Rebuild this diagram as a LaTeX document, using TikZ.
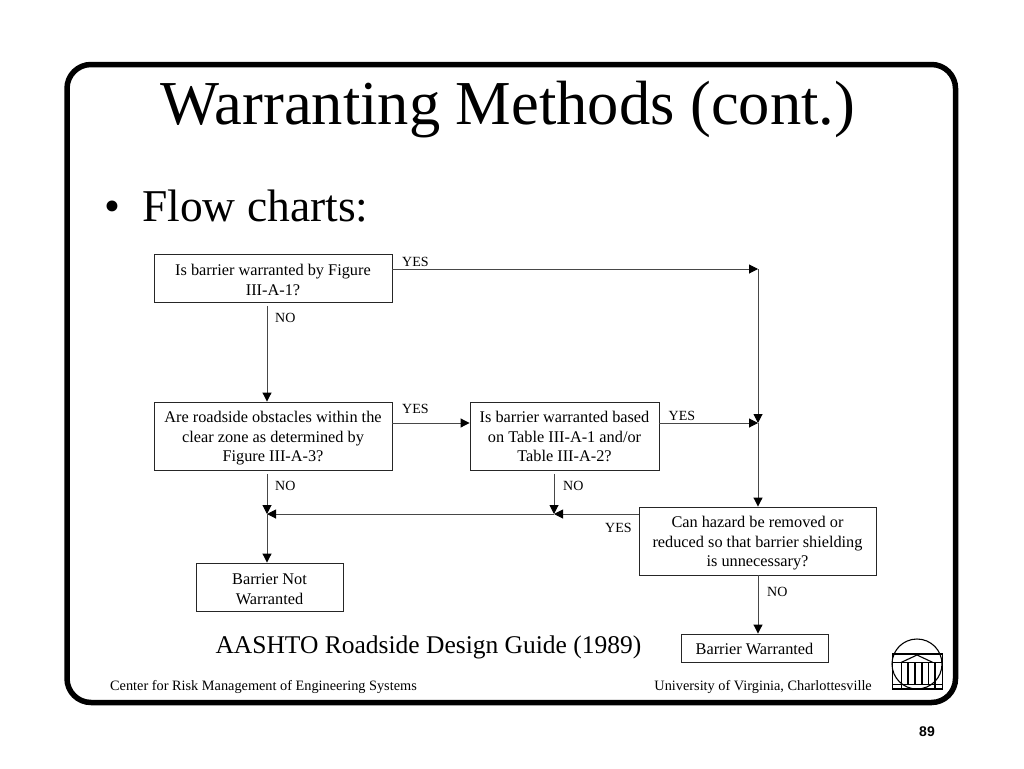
\documentclass[tikz,border=0pt]{standalone}
\usepackage{fontspec}
\setmainfont{Liberation Serif}
\newfontfamily\arialf{Liberation Sans}
\usetikzlibrary{arrows.meta,calc}
\newcommand{\dropl}[1]{\rule{0pt}{#1pt}}
\tikzset{
  fbox/.style={draw=black!85,line width=0.9pt,fill=white,inner sep=0pt,align=center,font=\fontsize{16.3}{19.5}\selectfont},
  lab/.style={inner sep=0pt,anchor=base west,font=\fontsize{14}{16}\selectfont},
  foot/.style={inner sep=0pt,font=\fontsize{14.3}{16}\selectfont},
  conn/.style={draw=black!72,line width=1pt,-{Triangle[length=9pt,width=9pt,fill=black,color=black]}},
  logo/.style={draw=black,line width=1.1pt}
}
\begin{document}
\begin{tikzpicture}[x=1pt,y=-1pt]
\useasboundingbox (0,0) rectangle (1024,768);
\fill[white] (0,0) rectangle (1024,768);
\draw[black,line width=5.5pt,rounded corners=24pt] (67,64.5) rectangle (955.5,702.5);
\node[inner sep=0pt] (title) at (508,110) {\fontsize{62.5}{70}\selectfont Warranting Methods (cont.)};
\node[inner sep=0pt,anchor=base west] (bullet) at (104,221) {\fontsize{45.5}{50}\selectfont •};
\node[inner sep=0pt,anchor=base west] (flow) at (142,221) {\fontsize{45.5}{50}\selectfont Flow charts:};
\node[fbox,minimum width=238pt,minimum height=48pt] (A) at (273,278) {\dropl{15}Is barrier warranted by Figure\\III-A-1?};
\node[fbox,minimum width=238pt,minimum height=68pt] (B) at (273,436) {\dropl{16}Are roadside obstacles within the\\clear zone as determined by\\Figure III-A-3?};
\node[fbox,minimum width=189pt,minimum height=68pt] (C) at (564.5,436) {\dropl{13}Is barrier warranted based\\on Table III-A-1 and/or\\Table III-A-2?};
\node[fbox,minimum width=237pt,minimum height=68pt] (D) at (757.5,541) {\dropl{16}Can hazard be removed or\\reduced so that barrier shielding\\is unnecessary?};
\node[fbox,minimum width=147pt,minimum height=48pt] (E) at (269.5,587) {\dropl{15}Barrier Not\\Warranted};
\node[fbox,minimum width=147pt,minimum height=28pt] (F) at (754.5,648) {\dropl{13}Barrier Warranted};
\coordinate (j1) at (758,269);
\coordinate (j2) at (758,423);
\coordinate (jm) at (554,514);
\coordinate (jl) at (267,514);
\draw[conn] (A.east |- j1) -- (j1);
\draw[conn] (j1) -- (j2);
\draw[conn] (j2) -- (D.north -| j2);
\draw[conn] (C.east |- j2) -- (j2);
\draw[conn] (B.east |- j2) -- (C.west |- j2);
\draw[conn,shorten <=3.5pt] (A.south -| jl) -- (B.north -| jl);
\draw[conn,shorten <=3.5pt] (B.south -| jl) -- (jl);
\draw[conn,shorten <=3.5pt] (C.south -| jm) -- (jm);
\draw[conn] (D.west |- jm) -- (jm);
\draw[conn] (jm) -- (jl);
\draw[conn] (jl) -- (E.north -| jl);
\draw[conn] (D.south -| j2) -- (F.north -| j2);
\node[lab] (l1) at (402,266) {YES};
\node[lab] (l2) at (275,322) {NO};
\node[lab] (l3) at (402,413) {YES};
\node[lab] (l4) at (668.5,420) {YES};
\node[lab] (l5) at (275,490) {NO};
\node[lab] (l6) at (563,490) {NO};
\node[lab] (l7) at (605,532) {YES};
\node[lab] (l8) at (767,596) {NO};
\node[inner sep=0pt] (src) at (428.5,647) {\fontsize{25.5}{28}\selectfont AASHTO Roadside Design Guide (1989)};
\node[foot,anchor=base west] (fl) at (110,690) {Center for Risk Management of Engineering Systems};
\node[foot,anchor=base east] (fr) at (872,690) {University of Virginia, Charlottesville};
\node[inner sep=0pt] (pg) at (927,732) {\arialf\bfseries\fontsize{14}{16}\selectfont 89};
% rotunda logo
\draw[logo] (917,664) circle (25);
\draw[logo] (892.5,654) rectangle (942.5,689);
\draw[logo] (892.5,662.5) -- (942.5,662.5);
\draw[logo] (892.5,684.5) -- (942.5,684.5);
\draw[logo] (901,662.5) -- (917,655) -- (933,662.5);
\foreach \xx in {908,915,922,928.5} \draw[logo] (\xx,662.5) -- (\xx,684.5);
\foreach \xx in {901.5,935} \draw[logo] (\xx,662.5) -- (\xx,689);
\end{tikzpicture}
\end{document}
